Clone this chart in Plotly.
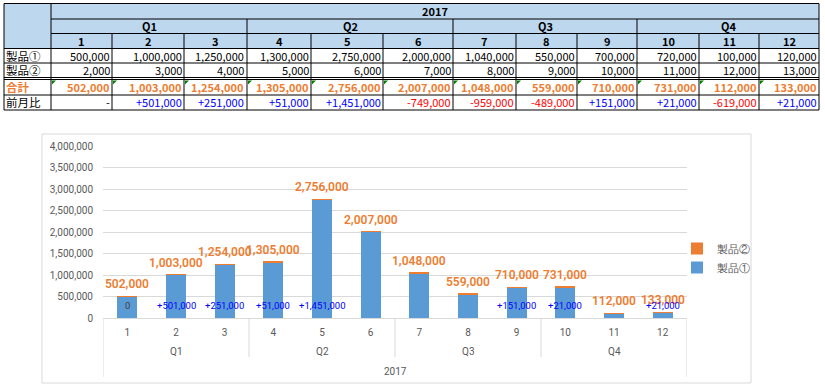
import plotly.graph_objects as go

# ---------------- data ----------------
months = ["1", "2", "3", "4", "5", "6", "7", "8", "9", "10", "11", "12"]
quarters = ["Q1", "Q2", "Q3", "Q4"]
year = "2017"
prod1 = [500000, 1000000, 1250000, 1300000, 2750000, 2000000,
         1040000, 550000, 700000, 720000, 100000, 120000]
prod2 = [2000, 3000, 4000, 5000, 6000, 7000, 8000, 9000, 10000, 11000, 12000, 13000]
total = [502000, 1003000, 1254000, 1305000, 2756000, 2007000,
         1048000, 559000, 710000, 731000, 112000, 133000]
mom = [None, 501000, 251000, 51000, 1451000, -749000,
       -959000, -489000, 151000, 21000, -619000, 21000]
row_labels = ["製品①", "製品②", "合計", "前月比"]
series_names = ["製品①", "製品②"]

# ---------------- styles ----------------
W, H = 825, 390
BLUE = "#5B9BD5"
ORANGE = "#ED7D31"
GRID = "#D9D9D9"
TXT = "#595959"
HEAD = "#BDD7EE"
TFONT = "Noto Sans CJK JP"
CFONT = "Roboto"


def X(px):
    return px / W


def Y(py):
    return 1 - py / H


# table geometry (pixels)
col_edges = [4, 51, 112, 184, 247, 311, 383, 453, 516, 577, 637, 699, 759, 819]
row_y = {"top": 3.5, "r1": 19, "r2": 33.5, "r3": 48.5, "d1": 63, "d2": 77.5,
         "d2b": 79.5, "d3": 95, "bot": 110}

shapes = []
annotations = []


def hline(py, x0, x1, color="black"):
    shapes.append(dict(type="line", xref="paper", yref="paper", x0=X(x0), x1=X(x1),
                       y0=Y(py), y1=Y(py), line=dict(color=color, width=1)))


def vline(px, y0, y1, color="black"):
    shapes.append(dict(type="line", xref="paper", yref="paper", x0=X(px), x1=X(px),
                       y0=Y(y0), y1=Y(y1), line=dict(color=color, width=1)))


# header fills
shapes.append(dict(type="rect", xref="paper", yref="paper", x0=X(col_edges[0]), x1=X(col_edges[-1]),
                   y0=Y(row_y["top"]), y1=Y(row_y["r3"]), fillcolor=HEAD, line=dict(width=0)))

# horizontal lines
hline(row_y["top"], col_edges[0], col_edges[-1])
hline(row_y["r1"], col_edges[1], col_edges[-1])
hline(row_y["r2"], col_edges[1], col_edges[-1])
for k in ["r3", "d1", "d2", "d2b", "d3", "bot"]:
    hline(row_y[k], col_edges[0], col_edges[-1])
# vertical lines
vline(col_edges[0], row_y["top"], row_y["bot"])
vline(col_edges[1], row_y["top"], row_y["bot"])
vline(col_edges[-1], row_y["top"], row_y["bot"])
for i in range(1, 12):
    e = col_edges[i + 1]
    if i % 3 == 0:
        vline(e, row_y["r1"], row_y["bot"])
    else:
        vline(e, row_y["r2"], row_y["bot"])


def tann(text, px, py, anchor="center", color="black", size=11, bold=False):
    annotations.append(dict(text=("<b>%s</b>" % text) if bold else text,
                            xref="paper", yref="paper", x=X(px), y=Y(py),
                            xanchor=anchor, yanchor="middle", showarrow=False,
                            borderpad=0,
                            font=dict(family=TFONT, size=size, color=color)))


# header texts
tann(year, (col_edges[1] + col_edges[-1]) / 2, (row_y["top"] + row_y["r1"]) / 2, bold=True)
for q, name in enumerate(quarters):
    tann(name, (col_edges[1 + 3 * q] + col_edges[4 + 3 * q]) / 2,
         (row_y["r1"] + row_y["r2"]) / 2, bold=True)
for i, m in enumerate(months):
    tann(m, (col_edges[i + 1] + col_edges[i + 2]) / 2, (row_y["r2"] + row_y["r3"]) / 2, bold=True)

row_centers = [(row_y["r3"] + row_y["d1"]) / 2, (row_y["d1"] + row_y["d2"]) / 2,
               (row_y["d2b"] + row_y["d3"]) / 2, (row_y["d3"] + row_y["bot"]) / 2]
for r, lab in enumerate(row_labels):
    if r == 2:
        tann(lab, 5, row_centers[r], anchor="left", color=ORANGE, size=11.5, bold=True)
    else:
        tann(lab, 5, row_centers[r], anchor="left", size=11.5)

for i in range(12):
    xr = col_edges[i + 2] - 1.5
    tann("{:,}".format(prod1[i]), xr, row_centers[0], anchor="right")
    tann("{:,}".format(prod2[i]), xr, row_centers[1], anchor="right")
    tann("{:,}".format(total[i]), xr, row_centers[2], anchor="right", color=ORANGE, bold=True)
    v = mom[i]
    if v is None:
        tann("-", xr, row_centers[3], anchor="right")
    elif v >= 0:
        tann("+{:,}".format(v), xr, row_centers[3], anchor="right", color="#0000FF")
    else:
        tann("-{:,}".format(-v), xr, row_centers[3], anchor="right", color="#FF0000")
    # green triangle indicator
    x0 = col_edges[i + 1] + 1
    y0 = row_y["d2b"] + 1
    shapes.append(dict(type="path", xref="paper", yref="paper",
                       path="M %f %f L %f %f L %f %f Z" % (X(x0), Y(y0), X(x0 + 4), Y(y0), X(x0), Y(y0 + 4)),
                       fillcolor="#008000", line=dict(width=0)))

# ---------------- chart ----------------
# chart border
shapes.append(dict(type="rect", xref="paper", yref="paper", x0=X(42), x1=X(751), y0=Y(383), y1=Y(134),
                   line=dict(color=GRID, width=1), layer="below"))

fig = go.Figure()
fig.add_trace(go.Bar(x=months, y=prod1, name=series_names[0], marker=dict(color=BLUE, line=dict(width=0)),
                     width=0.41, hoverinfo="skip"))
fig.add_trace(go.Bar(x=months, y=prod2, name=series_names[1], marker=dict(color=ORANGE, line=dict(width=0)),
                     width=0.41, hoverinfo="skip"))

# total labels (category index positions)
for i in range(12):
    annotations.append(dict(text="{:,}".format(total[i]), xref="x", yref="y", x=i, y=total[i],
                            yanchor="bottom", yshift=3, showarrow=False,
                            font=dict(family=CFONT, size=12, color=ORANGE, weight=600)))
# month-over-month labels
for i in range(12):
    v = mom[i]
    if v is None:
        t, c = "0", "#404040"
    elif v >= 0:
        t, c = "+{:,}".format(v), "#0000FF"
    else:
        continue
    annotations.append(dict(text=t, xref="x", yref="y", x=i, y=0,
                            yanchor="middle", yshift=13, showarrow=False,
                            font=dict(family=CFONT, size=9.5, color=c)))

# multi-level axis: quarter dividers and labels
for b in [-0.5, 11.5]:
    shapes.append(dict(type="line", xref="x", yref="paper", x0=b, x1=b, y0=Y(377), y1=Y(318),
                       line=dict(color=GRID, width=1)))
for b in [2.5, 5.5, 8.5]:
    shapes.append(dict(type="line", xref="x", yref="paper", x0=b, x1=b, y0=Y(357), y1=Y(318),
                       line=dict(color=GRID, width=1)))
for q, name in enumerate(quarters):
    annotations.append(dict(text=name, xref="x", yref="paper", x=3 * q + 1, y=Y(351),
                            yanchor="middle", showarrow=False,
                            font=dict(family=CFONT, size=10, color=TXT)))
annotations.append(dict(text=year, xref="x", yref="paper", x=5.5, y=Y(371),
                        yanchor="middle", showarrow=False,
                        font=dict(family=CFONT, size=10, color=TXT)))

fig.update_layout(
    width=W, height=H,
    margin=dict(l=0, r=0, t=0, b=0, autoexpand=False),
    paper_bgcolor="white", plot_bgcolor="white",
    barmode="stack",
    shapes=shapes,
    annotations=annotations,
    showlegend=True,
    legend=dict(x=X(677), y=Y(234), xanchor="left", yanchor="top", traceorder="reversed",
                font=dict(family=CFONT, size=10.5, color=TXT), bgcolor="rgba(0,0,0,0)",
                itemwidth=30, tracegroupgap=0),
    xaxis=dict(domain=[X(103), X(687)], type="category", range=[-0.5, 11.5],
               showline=True, linecolor=GRID, linewidth=1, showgrid=False,
               ticks="", tickfont=dict(family=CFONT, size=10, color=TXT),
               ticklabelstandoff=5, fixedrange=True, automargin=False),
    yaxis=dict(domain=[Y(318), Y(146)], range=[0, 4000000], dtick=500000, tickformat=",d",
               showgrid=True, gridcolor=GRID, gridwidth=1, zeroline=False, showline=False,
               ticks="", tickfont=dict(family=CFONT, size=10, color=TXT),
               ticklabelstandoff=9, fixedrange=True, automargin=False),
)

fig.write_html("out.html", config={"displayModeBar": False},
               post_script="document.body.style.margin='0';document.body.style.padding='0';")
